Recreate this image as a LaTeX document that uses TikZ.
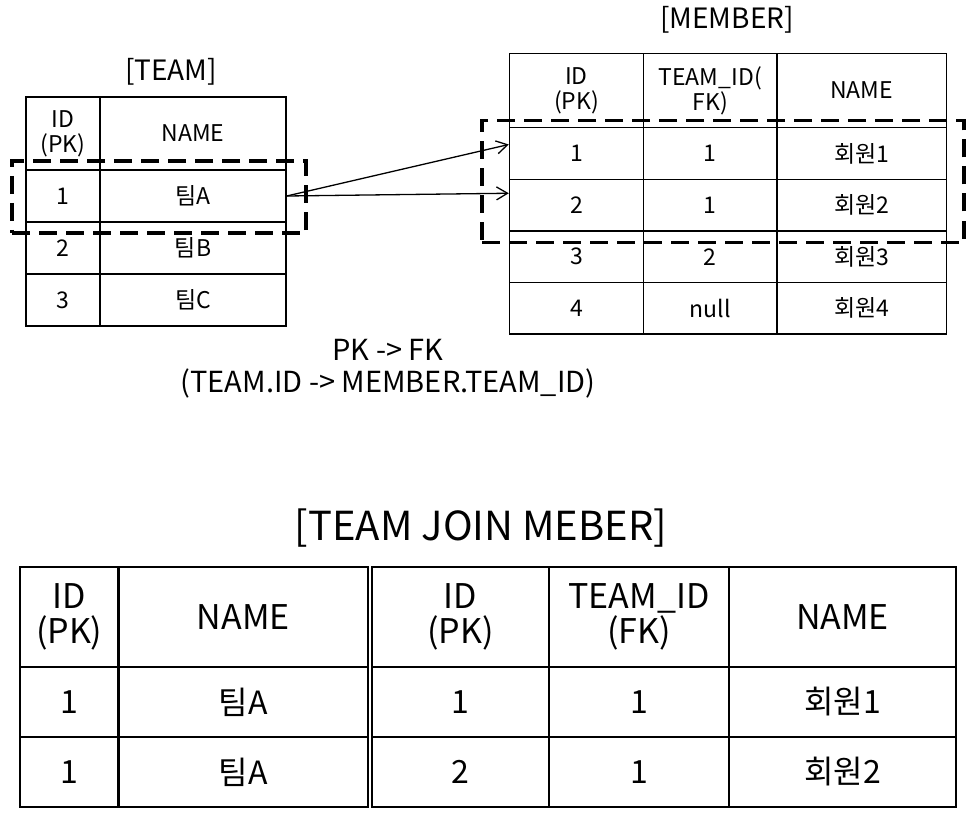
\documentclass[tikz,border=0pt]{standalone}
\usepackage{fontspec}
\setmainfont{Noto Sans CJK KR}
\usetikzlibrary{arrows.meta}

\newcommand\cellfont{\fontsize{23}{25}\selectfont}
\newcommand\toptitlefont{\fontsize{28}{32}\selectfont}
\newcommand\notefont{\fontsize{29}{32}\selectfont}
\newcommand\joinfont{\fontsize{40}{44}\selectfont}
\newcommand\joinheadfont{\fontsize{34}{35}\selectfont}
\newcommand\joincellfont{\fontsize{32}{34}\selectfont}

\begin{document}
\begin{tikzpicture}[x=1pt, y=-1pt,
	cell/.style={draw, line width=1.5pt, inner sep=0pt, align=center, font=\cellfont},
	jhead/.style={draw, line width=2.3pt, inner sep=0pt, align=center, font=\joinheadfont, minimum height=100pt},
	jcell/.style={draw, line width=2.3pt, inner sep=0pt, align=center, font=\joincellfont, minimum height=70pt},
	selbox/.style={draw, line width=3.2pt, dash pattern=on 18pt off 9pt, inner sep=0pt},
	fk/.style={-{Straight Barb[length=11pt,width=13pt]}, line width=1.3pt}]
	\useasboundingbox (0,0) rectangle (978,840);

	% TEAM
	\node [font=\toptitlefont] (teamtitle) at (171,72) {[TEAM]};
	\node [cell, minimum width=74pt, minimum height=73pt] (tid) at (63,133.5) {ID\\(PK)};
	\node [cell, minimum width=186pt, minimum height=73pt] (tname) at (193,133.5) {NAME};
	\node [cell, minimum width=74pt, minimum height=52pt] (t1id) at (63,196) {1};
	\node [cell, minimum width=186pt, minimum height=52pt] (t1name) at (193,196) {팀A};
	\node [cell, minimum width=74pt, minimum height=52pt] (t2id) at (63,248) {2};
	\node [cell, minimum width=186pt, minimum height=52pt] (t2name) at (193,248) {팀B};
	\node [cell, minimum width=74pt, minimum height=52pt] (t3id) at (63,300) {3};
	\node [cell, minimum width=186pt, minimum height=52pt] (t3name) at (193,300) {팀C};

	% MEMBER
	\node [font=\toptitlefont] (membertitle) at (727,20) {[MEMBER]};
	\node [cell, minimum width=134pt, minimum height=74pt] (mid) at (576.5,90.5) {ID\\(PK)};
	\node [cell, minimum width=133.5pt, minimum height=74pt] (mteam) at (710.25,90.5) {TEAM\_ID(\\FK)};
	\node [cell, minimum width=169.5pt, minimum height=74pt] (mname) at (861.75,90.5) {NAME};
	\node [cell, minimum width=134pt, minimum height=52pt] (m1id) at (576.5,153.5) {1};
	\node [cell, minimum width=133.5pt, minimum height=52pt] (m1team) at (710.25,153.5) {1};
	\node [cell, minimum width=169.5pt, minimum height=52pt] (m1name) at (861.75,153.5) {회원1};
	\node [cell, minimum width=134pt, minimum height=51.5pt] (m2id) at (576.5,205.25) {2};
	\node [cell, minimum width=133.5pt, minimum height=51.5pt] (m2team) at (710.25,205.25) {1};
	\node [cell, minimum width=169.5pt, minimum height=51.5pt] (m2name) at (861.75,205.25) {회원2};
	\node [cell, minimum width=134pt, minimum height=51.5pt] (m3id) at (576.5,256.75) {3};
	\node [cell, minimum width=133.5pt, minimum height=51.5pt] (m3team) at (710.25,256.75) {2};
	\node [cell, minimum width=169.5pt, minimum height=51.5pt] (m3name) at (861.75,256.75) {회원3};
	\node [cell, minimum width=134pt, minimum height=51.5pt] (m4id) at (576.5,308.25) {4};
	\node [cell, minimum width=133.5pt, minimum height=51.5pt] (m4team) at (710.25,308.25) {null};
	\node [cell, minimum width=169.5pt, minimum height=51.5pt] (m4name) at (861.75,308.25) {회원4};

	% joined rows
	\node [selbox, minimum width=294pt, minimum height=72pt] (teamsel) at (159,197) {};
	\node [selbox, minimum width=482pt, minimum height=122pt] (membersel) at (723,181.5) {};
	\draw [fk] (t1name.east) -- ([yshift=9pt]m1id.west);
	\draw [fk] (t1name.east) -- ([yshift=12pt]m2id.west);
	\node [font=\notefont, align=center] (note) at (388,369) {PK -> FK\\(TEAM.ID -> MEMBER.TEAM\_ID)};

	% TEAM JOIN MEMBER
	\node [font=\joinfont] (jointitle) at (481,528) {[TEAM JOIN MEBER]};
	\node [jhead, minimum width=98.5pt] (jtid) at (69.25,617) {ID\\(PK)};
	\node [jhead, minimum width=249.5pt] (jtname) at (243.25,617) {NAME};
	\node [jhead, minimum width=177pt] (jmid) at (460.5,617) {ID\\(PK)};
	\node [jhead, minimum width=180pt] (jmteam) at (639,617) {TEAM\_ID\\(FK)};
	\node [jhead, minimum width=227pt] (jmname) at (842.5,617) {NAME};
	\node [jcell, minimum width=98.5pt] (j1tid) at (69.25,702) {1};
	\node [jcell, minimum width=249.5pt] (j1tname) at (243.25,702) {팀A};
	\node [jcell, minimum width=177pt] (j1mid) at (460.5,702) {1};
	\node [jcell, minimum width=180pt] (j1mteam) at (639,702) {1};
	\node [jcell, minimum width=227pt] (j1mname) at (842.5,702) {회원1};
	\node [jcell, minimum width=98.5pt] (j2tid) at (69.25,772) {1};
	\node [jcell, minimum width=249.5pt] (j2tname) at (243.25,772) {팀A};
	\node [jcell, minimum width=177pt] (j2mid) at (460.5,772) {2};
	\node [jcell, minimum width=180pt] (j2mteam) at (639,772) {1};
	\node [jcell, minimum width=227pt] (j2mname) at (842.5,772) {회원2};
\end{tikzpicture}
\end{document}
